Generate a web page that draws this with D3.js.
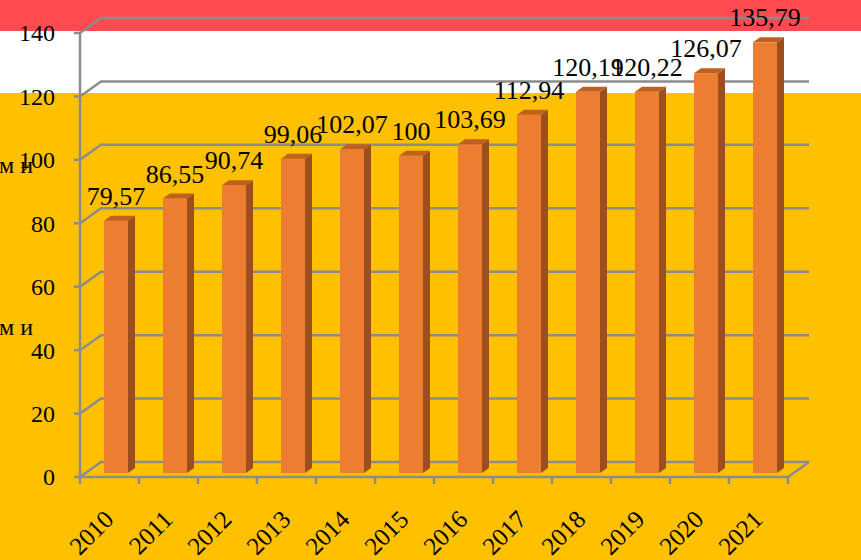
<!DOCTYPE html>
<html>
<head>
<meta charset="utf-8">
<script src="https://cdn.jsdelivr.net/npm/d3@7"></script>
<style>
  body { margin: 0; }
  svg { display: block; font-family: "Liberation Serif", "Times New Roman", serif; }
</style>
</head>
<body>
<div id="mainGraphic"></div>
<script>
let svgWidth = 861
let svgHeight = 560

let years = ["2010", "2011", "2012", "2013", "2014", "2015", "2016", "2017", "2018", "2019", "2020", "2021"]
let values = [79.57, 86.55, 90.74, 99.06, 102.07, 100, 103.69, 112.94, 120.19, 120.22, 126.07, 135.79]
let yTicks = [0, 20, 40, 60, 80, 100, 120, 140]

renderChart();

function renderChart(){
  let graphic = d3.select("#mainGraphic")
    .append("svg")
      .attr("width", svgWidth)
      .attr("height", svgHeight)

  // background bands
  graphic.append("rect").attr("width", svgWidth).attr("height", svgHeight).attr("fill", "#FFC000")
  graphic.append("rect").attr("width", svgWidth).attr("height", 93).attr("fill", "#ffffff")
  graphic.append("rect").attr("width", svgWidth).attr("height", 31).attr("fill", "#FF4B4F")

  // stray text from the page behind
  graphic.append("text").attr("x", -1).attr("y", 173).attr("font-size", 24).text("м и")
  graphic.append("text").attr("x", -1).attr("y", 335).attr("font-size", 24).text("м и")

  let x = d3.scaleBand().domain(years).range([80, 788])
  let y = d3.scaleLinear().domain([0, 140]).range([477, 33])

  let depthX = 21, depthY = -15
  let grey = "#8C8C8C"

  // back wall + side wall gridlines
  let grid = graphic.append("g").attr("fill", "none").attr("stroke", grey).attr("stroke-width", 2.5)
  grid.selectAll("path")
    .data(yTicks)
    .enter()
    .append("path")
      .attr("d", d => "M" + 80 + "," + y(d) + "L" + (80 + depthX) + "," + (y(d) + depthY) + "H" + (788 + depthX))

  // floor front edge and right diagonal
  grid.append("path").attr("d", "M80," + y(0) + "H788L" + (788 + depthX) + "," + (y(0) + depthY))
  // vertical axis
  grid.append("path").attr("d", "M80," + y(140) + "V" + y(0))

  // ticks
  grid.selectAll(".ytick")
    .data(yTicks)
    .enter()
    .append("path")
      .attr("d", d => "M74," + y(d) + "H80")
  grid.selectAll(".xtick")
    .data(years.concat(["end"]))
    .enter()
    .append("path")
      .attr("d", (d, i) => {
        let px = i < years.length ? x(d) : 788
        return "M" + px + "," + y(0) + "V" + (y(0) + 7)
      })

  // y tick labels
  graphic.append("g").selectAll("text")
    .data(yTicks)
    .enter()
    .append("text")
      .attr("x", 55)
      .attr("y", d => y(d))
      .attr("dy", "0.35em")
      .attr("text-anchor", "end")
      .attr("font-size", 24)
      .text(d => d)

  // 3D bars
  let barW = 24, sideW = 7, topH = 5, lift = 4
  let bars = graphic.append("g").selectAll("g")
    .data(years.map((d, i) => ({ year: d, value: values[i] })))
    .enter()
    .append("g")
  let barLeft = d => x(d.year) + 24
  let barTop = d => y(d.value) - lift
  let barBase = y(0) - lift

  bars.append("rect")
    .attr("x", barLeft)
    .attr("y", barTop)
    .attr("width", barW)
    .attr("height", d => barBase - barTop(d))
    .attr("fill", "#ED7D31")
  bars.append("path")
    .attr("d", d => {
      let l = barLeft(d) + barW, t = barTop(d)
      return "M" + l + "," + t + "L" + (l + sideW) + "," + (t - topH) + "V" + (barBase - topH) + "L" + l + "," + barBase + "Z"
    })
    .attr("fill", "#9C4F1D")
  bars.append("path")
    .attr("d", d => {
      let l = barLeft(d), t = barTop(d)
      return "M" + l + "," + t + "L" + (l + sideW) + "," + (t - topH) + "H" + (l + barW + sideW) + "L" + (l + barW) + "," + t + "Z"
    })
    .attr("fill", "#BF5F20")

  // value labels
  bars.append("text")
    .attr("x", d => barLeft(d) + barW / 2)
    .attr("y", d => barTop(d) - 16)
    .attr("text-anchor", "middle")
    .attr("font-size", 26)
    .text(d => String(d.value).replace(".", ","))

  // category labels
  graphic.append("g").selectAll("text")
    .data(years)
    .enter()
    .append("text")
      .attr("transform", d => "translate(" + (x(d) + x.bandwidth() / 2 + 5.5) + ",521) rotate(-45)")
      .attr("text-anchor", "end")
      .attr("font-size", 25)
      .text(d => d)
}
</script>
</body>
</html>
